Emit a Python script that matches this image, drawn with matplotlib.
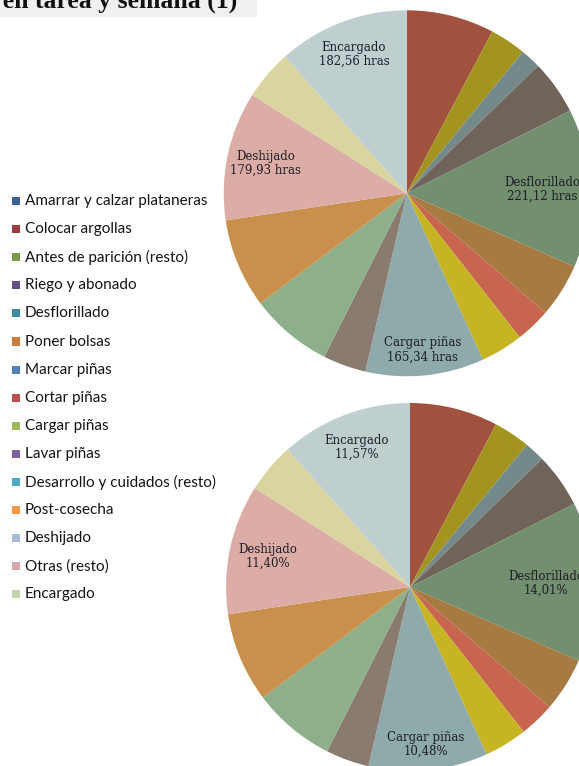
import numpy as np
import matplotlib
matplotlib.use("Agg")
import matplotlib.pyplot as plt
from matplotlib.patches import Rectangle

tareas = ["Amarrar y calzar plataneras", "Colocar argollas", "Antes de parición (resto)",
          "Riego y abonado", "Desflorillado", "Poner bolsas", "Marcar piñas", "Cortar piñas",
          "Cargar piñas", "Lavar piñas", "Desarrollo y cuidados (resto)", "Post-cosecha",
          "Deshijado", "Otras (resto)", "Encargado"]
horas = [122.25, 50.5, 28.4, 75.8, 221.12, 75.0, 48.9, 59.2,
         165.34, 60.0, 115.2, 124.7, 179.93, 69.4, 182.56]
etiquetadas = ["Encargado", "Deshijado", "Desflorillado", "Cargar piñas"]

# colours of the slices (clockwise from 12 o'clock)
colores_pie = ["#A0523F", "#A39420", "#748A8A", "#70645A", "#728F6F", "#A67A40",
               "#C8654E", "#C6B423", "#8EAAAA", "#8A7B6F", "#8DAF8A", "#C8904C",
               "#DCADA6", "#DAD4A0", "#BFCFCF"]
# colours of the legend squares (they differ from the slices in the original)
colores_ley = ["#3E5F9B", "#9E3D3B", "#7A9A45", "#654F87", "#3A8DA3", "#CE7A38",
               "#4F81BD", "#C0504D", "#9BBB59", "#8064A2", "#4BACC6", "#F79646",
               "#A9B8D8", "#D8A8A8", "#C3D6A8"]
radio_lbl = {"Encargado": 0.81, "Deshijado": 0.79, "Desflorillado": 0.74, "Cargar piñas": 0.86}

W, H = 579, 766
fig = plt.figure(figsize=(W / 100, H / 100), dpi=100)
fig.patch.set_facecolor("white")

total = sum(horas)


def pie(cx, cy, r, fmt):
    ax = fig.add_axes([(cx - r) / W, 1 - (cy + r) / H, 2 * r / W, 2 * r / H])
    wedges, _ = ax.pie(horas, colors=colores_pie, startangle=90, counterclock=False,
                       wedgeprops=dict(linewidth=0))
    ax.set_xlim(-1, 1); ax.set_ylim(-1, 1)
    for w, nombre, h in zip(wedges, tareas, horas):
        if nombre not in etiquetadas:
            continue
        ang = np.deg2rad((w.theta1 + w.theta2) / 2)
        rr = radio_lbl[nombre]
        ax.text(rr * np.cos(ang), rr * np.sin(ang), nombre + "\n" + fmt(h),
                ha="center", va="center", fontsize=8.5, family="DejaVu Serif",
                color="#1E1E28", linespacing=1.1)
    return ax


pie(406.7, 193.3, 183, lambda h: f"{h:.2f}".replace(".", ",") + " hras")
pie(410, 587, 184, lambda h: f"{100 * h / total:.2f}".replace(".", ",") + "%")

# legend
for i, (nombre, c) in enumerate(zip(tareas, colores_ley)):
    y = 201 + i * 28.1
    fig.patches.append(Rectangle((12 / W, 1 - (y + 4) / H), 8 / W, 8 / H,
                                 transform=fig.transFigure, facecolor=c, edgecolor="none"))
    fig.text(25 / W, 1 - y / H, nombre, ha="left", va="center", fontsize=11,
             family="Lato", color="#141414")

# title (cut off at the top in the original)
fig.patches.append(Rectangle((0, 1 - 17 / H), 257 / W, 17 / H, transform=fig.transFigure,
                             facecolor="#F0F0F0", edgecolor="none"))
fig.text(237 / W, 1 - 8 / H, "Tiempo empleado en tarea y semana (1)", ha="right",
         va="baseline", fontsize=18.5, fontweight="bold", family="Liberation Serif",
         color="#111111")

fig.savefig("out.png", dpi=100, facecolor="white")
